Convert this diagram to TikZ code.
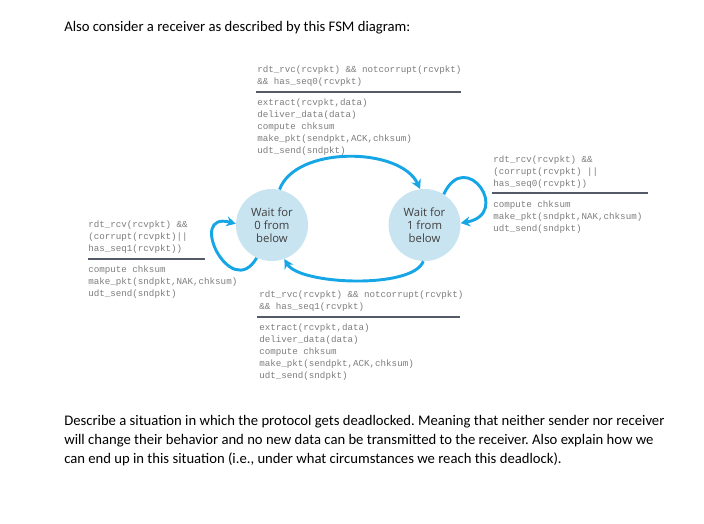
\documentclass[tikz,border=0pt]{standalone}
\usepackage{fontspec}
\setmainfont{Carlito}
\setsansfont{Open Sans}
\setmonofont{Liberation Mono}
\usetikzlibrary{arrows.meta, positioning}
\frenchspacing

\definecolor{fsmblue}{RGB}{22,166,230}
\definecolor{statefill}{RGB}{200,228,240}
\definecolor{codegray}{RGB}{125,125,125}
\definecolor{rulegray}{RGB}{85,90,105}

\begin{document}
\begin{tikzpicture}[
    x=0.75pt, y=0.75pt,
    state/.style={circle, fill=statefill, minimum size=54pt, inner sep=0pt, align=center,
      font=\sffamily\fontsize{8.5}{9.9}\selectfont, text=black!75},
    code/.style={anchor=north west, inner sep=0pt, align=left,
      font=\ttfamily\fontsize{6.9}{9}\selectfont, text=codegray},
    trans/.style={-{Stealth[length=7pt, width=7.5pt]}, line width=2.2pt, draw=fsmblue},
    guardrule/.style={line width=1.1pt, draw=rulegray},
    para/.style={anchor=north west, inner sep=0pt, align=left, font=\fontsize{11}{14.25}\selectfont}
  ]
    \useasboundingbox (0,0) rectangle (704,-524);

    \node[anchor=west, inner sep=0pt, font=\fontsize{11}{13}\selectfont] (intro) at (64,-28)
      {Also consider a receiver as described by this FSM diagram:};

    % states
    \node[state] (w0) at (272,-225) {Wait for\\0 from\\below};
    \node[state, right=60pt of w0] (w1) {Wait for\\1 from\\below};

    % transitions
    \draw[trans] (w0.78) to[out=70, in=115, looseness=0.85] (w1.97);
    \draw[trans] (w1.-92) to[out=-110, in=-60, looseness=0.55] (w0.-70);
    \draw[trans] (w0.-115) to[out=-120, in=165, looseness=3.3] (w0.178);
    \draw[trans] (w1.58) to[out=65, in=10, looseness=4] (w1.3);

    % 0 -> 1
    \node[code] (g01) at (257,-65.5) {rdt\_rvc(rcvpkt) \&\& notcorrupt(rcvpkt)\\\&\& has\_seq0(rcvpkt)};
    \draw[guardrule] (256,-92) -- (461,-92);
    \node[code] (a01) at (257,-98.5) {extract(rcvpkt,data)\\deliver\_data(data)\\compute chksum\\make\_pkt(sendpkt,ACK,chksum)\\udt\_send(sndpkt)};

    % 1 -> 1
    \node[code] (g11) at (493,-155.5) {rdt\_rcv(rcvpkt) \&\&\\(corrupt(rcvpkt) ||\\has\_seq0(rcvpkt))};
    \draw[guardrule] (492,-193) -- (648,-193);
    \node[code] (a11) at (493,-200.5) {compute chksum\\make\_pkt(sndpkt,NAK,chksum)\\udt\_send(sndpkt)};

    % 0 -> 0
    \node[code] (g00) at (88,-220.5) {rdt\_rcv(rcvpkt) \&\&\\(corrupt(rcvpkt)||\\has\_seq1(rcvpkt))};
    \draw[guardrule] (88,-259) -- (205,-259);
    \node[code] (a00) at (88,-265.5) {compute chksum\\make\_pkt(sndpkt,NAK,chksum)\\udt\_send(sndpkt)};

    % 1 -> 0
    \node[code] (g10) at (259,-290.5) {rdt\_rvc(rcvpkt) \&\& notcorrupt(rcvpkt)\\\&\& has\_seq1(rcvpkt)};
    \draw[guardrule] (257,-317) -- (460,-317);
    \node[code] (a10) at (259,-323.5) {extract(rcvpkt,data)\\deliver\_data(data)\\compute chksum\\make\_pkt(sendpkt,ACK,chksum)\\udt\_send(sndpkt)};

    \node[para] (task) at (64,-415)
      {Describe a situation in which the protocol gets deadlocked. Meaning that neither sender nor receiver\\
       will change their behavior and no new data can be transmitted to the receiver. Also explain how we\\
       can end up in this situation (i.e., under what circumstances we reach this deadlock).};
\end{tikzpicture}
\end{document}
